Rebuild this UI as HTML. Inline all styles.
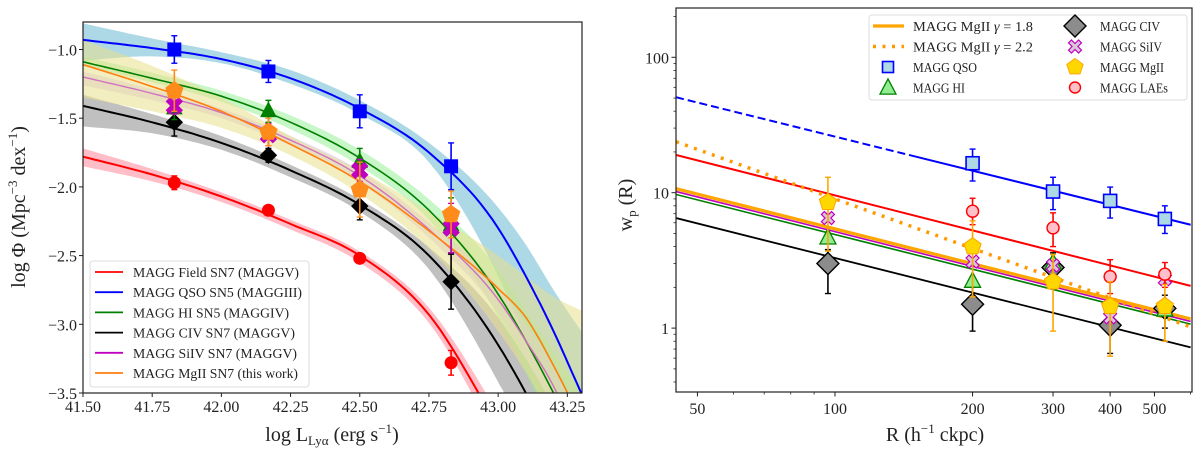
<!DOCTYPE html>
<html><head><meta charset="utf-8"><style>
html,body{margin:0;padding:0;background:#fff;width:1200px;height:456px;overflow:hidden;}
svg{display:block;font-family:"Liberation Serif","DejaVu Serif",serif;}
svg text{font-family:"Liberation Serif","DejaVu Serif",serif;}
</style></head><body>
<svg id="fig" width="1200" height="456" viewBox="0 0 1200 456" font-family="Liberation Serif, DejaVu Serif, serif" xmlns="http://www.w3.org/2000/svg">
<g id="left"></g>
<g id="right"></g>
</svg>
<script>
// ---------- LEFT PANEL DATA ----------
const gridL = [41.5,41.75,42.0,42.25,42.5,42.75,43.0,43.1,43.2,43.3];
const fieldCurve = [-1.78,-1.91,-2.07,-2.27,-2.50,-2.93,-3.75,-4.1,-4.5,-4.9];
const fieldUp    = [-1.72,-1.87,-2.04,-2.24,-2.47,-2.88,-3.65,-4.0,-4.4,-4.8];
const fieldLo    = [-1.85,-1.96,-2.11,-2.31,-2.55,-2.99,-3.85,-4.2,-4.6,-5.0];
const qsoCurve = [-0.93,-0.99,-1.07,-1.21,-1.43,-1.75,-2.30,-2.65,-3.05,-3.5];
const qsoUp    = [-0.81,-0.92,-1.02,-1.15,-1.37,-1.68,-2.15,-2.42,-2.75,-3.05];
const qsoLo    = [-1.08,-1.05,-1.10,-1.25,-1.47,-1.82,-2.65,-3.1,-3.5,-3.9];
const hiCurve = [-1.09,-1.21,-1.34,-1.53,-1.79,-2.17,-2.78,-3.12,-3.5,-3.9];
const hiUp    = [-1.05,-1.17,-1.30,-1.48,-1.73,-2.09,-2.60,-2.90,-3.2,-3.5];
const hiLo    = [-1.12,-1.24,-1.38,-1.58,-1.85,-2.24,-2.95,-3.35,-3.8,-4.2];
const civCurve = [-1.41,-1.53,-1.68,-1.88,-2.13,-2.50,-3.15,-3.5,-3.9,-4.3];
const civUp    = [-1.33,-1.47,-1.63,-1.84,-2.09,-2.44,-2.95,-3.25,-3.6,-4.0];
const civLo    = [-1.56,-1.61,-1.73,-1.93,-2.18,-2.60,-3.42,-3.8,-4.3,-4.7];
const siivCurve = [-1.20,-1.32,-1.46,-1.66,-1.92,-2.31,-2.82,-3.12,-3.45,-3.9];
const siivUp    = [-1.16,-1.29,-1.43,-1.63,-1.88,-2.26,-2.72,-3.0,-3.3,-3.7];
const siivLo    = [-1.26,-1.37,-1.50,-1.70,-1.97,-2.37,-2.92,-3.25,-3.6,-4.0];
const mgCurve = [-1.11,-1.27,-1.45,-1.69,-1.96,-2.32,-2.74,-2.95,-3.30,-3.7];
const mgUp    = [-0.93,-1.12,-1.35,-1.63,-1.88,-2.18,-2.50,-2.65,-2.80,-2.90];
const mgLo    = [-1.35,-1.45,-1.57,-1.77,-2.05,-2.45,-3.05,-3.35,-3.70,-4.0];
const ptsX = [41.83,42.17,42.5,42.83];
const fieldPts = [-1.97,-2.17,-2.52,-3.28]; const fieldErr = [0.05,0.03,0.03,0.09];
const qsoPts = [-1.00,-1.16,-1.45,-1.85];   const qsoErr = [0.10,0.08,0.12,0.17];
const hiPts = [-1.43,-1.45,-1.82,-2.28];    const hiErr = [0.08,0.08,0.10,0.2];
const siivPts = [-1.41,-1.62,-1.88,-2.30];  const siivErr = [0.06,0.08,0.08,0.18];
const mgPts = [-1.30,-1.60,-2.02,-2.20];    const mgErr = [0.15,0.10,0.20,0.17];
const civPts = [-1.53,-1.77,-2.14,-2.69];   const civErr = [0.10,0.05,0.10,0.2];
const xTicksL = [41.50,41.75,42.00,42.25,42.50,42.75,43.00,43.25];
const xTickLabelsL = ["41.50","41.75","42.00","42.25","42.50","42.75","43.00","43.25"];
const yTicksL = [-1.0,-1.5,-2.0,-2.5,-3.0,-3.5];
const yTickLabelsL = ["\u22121.0","\u22121.5","\u22122.0","\u22122.5","\u22123.0","\u22123.5"];
const legendL = ["MAGG Field SN7 (MAGGV)","MAGG QSO SN5 (MAGGIII)","MAGG HI SN5 (MAGGIV)","MAGG CIV SN7 (MAGGV)","MAGG SiIV SN7 (MAGGV)","MAGG MgII SN7 (this work)"];

// ---------- RIGHT PANEL DATA ----------
const lineR = [44.9, 600];
const qsoLine = [50.7, 5.8];
const laeLine = [19.0, 2.05];
const mg18Line = [10.7, 1.17];
const siivLine = [10.2, 1.12];
const hiLine = [9.7, 1.07];
const civLine = [6.5, 0.72];
const mg22Line = [23.8, 1.02];
const qsoR = [200,300,400,527]; const qsoW = [16.5,10.2,8.7,6.4]; const qsoWlo=[12.2,7.5,6.5,5.0]; const qsoWhi=[21,13,11,8];
const laeR = [200,300,400,527]; const laeW = [7.3,5.5,2.4,2.5]; const laeWlo=[5.8,4.0,1.8,2.0]; const laeWhi=[9.1,7.1,3.2,3.05];
const mgR = [96.5,200,300,400,527]; const mgW = [8.5,4.0,2.2,1.45,1.45]; const mgWlo=[3.7,1.7,0.95,0.62,0.8]; const mgWhi=[13,6.2,3.5,2.2,2.1];
const siR = [96.5,200,300,400,527]; const siW = [6.5,3.1,2.9,1.2,2.3];
const hiR = [96.5,200,300,527]; const hiW = [4.6,2.2,3.0,1.35];
const civR = [96.5,200,300,400,527]; const civW = [3.0,1.5,2.8,1.05,1.4]; const civWlo=[1.8,0.95,2.0,0.65,1.0]; const civWhi=[3.8,2.0,3.6,1.3,1.75];
const xTicksR = [50,100,200,300,400,500];
const xTickLabelsR = ["50","100","200","300","400","500"];
const yTicksR = [1,10,100];
const yTickLabelsR = ["1","10","100"];

const NS="http://www.w3.org/2000/svg";
function mk(tag, attrs, parent){const e=document.createElementNS(NS,tag);for(const k in attrs)e.setAttribute(k,attrs[k]);parent.appendChild(e);return e;}

// ---------- LEFT ----------
const L={x0:83,x1:582,y0:22,y1:393,xmin:41.5,xmax:43.303,ymin:-3.5,ymax:-0.8};
const lx=v=>L.x0+(v-L.xmin)/(L.xmax-L.xmin)*(L.x1-L.x0);
const ly=v=>L.y1-(v-L.ymin)/(L.ymax-L.ymin)*(L.y1-L.y0);
const gL=document.getElementById('left');
const defs=mk('defs',{},gL);
const cp=mk('clipPath',{id:'clipL'},defs); mk('rect',{x:L.x0,y:L.y0,width:L.x1-L.x0,height:L.y1-L.y0},cp);
const cp2=mk('clipPath',{id:'clipR'},defs); mk('rect',{x:676,y:8,width:516,height:384},cp2);
const plotL=mk('g',{'clip-path':'url(#clipL)'},gL);
// cubic Hermite interpolation in data space (handles non-uniform spacing)
function smoothPts(c){const X=gridL,n=X.length,m=[];
 for(let i=0;i<n;i++){if(i===0)m.push((c[1]-c[0])/(X[1]-X[0]));else if(i===n-1)m.push((c[n-1]-c[n-2])/(X[n-1]-X[n-2]));
  else{const h0=X[i]-X[i-1],h1=X[i+1]-X[i];m.push(((c[i]-c[i-1])/h0*h1+(c[i+1]-c[i])/h1*h0)/(h0+h1));}}
 const out=[];
 for(let i=0;i<n-1;i++){const h=X[i+1]-X[i];for(let k=0;k<12;k++){const t=k/12,t2=t*t,t3=t2*t;
  const y=(2*t3-3*t2+1)*c[i]+(t3-2*t2+t)*h*m[i]+(-2*t3+3*t2)*c[i+1]+(t3-t2)*h*m[i+1];
  out.push([lx(X[i]+t*h),ly(y)]);}}
 out.push([lx(X[n-1]),ly(c[n-1])]);return out;}
function bandPath(up,lo){const a=smoothPts(up),b=smoothPts(lo).reverse();return a.concat(b).map((p,i)=>(i?'L':'M')+p[0].toFixed(1)+','+p[1].toFixed(1)).join('')+'Z';}
function curvePath(c){return smoothPts(c).map((p,i)=>(i?'L':'M')+p[0].toFixed(1)+','+p[1].toFixed(1)).join('');}
const bands=[[qsoUp,qsoLo,'#add8e6',1,'qso-band'],[civUp,civLo,'#9e9e9e',0.65,'civ-band'],[hiUp,hiLo,'#90ee90',0.5,'hi-band'],[siivUp,siivLo,'#dcc8f0',0.6,'siiv-band'],[mgUp,mgLo,'#e8e08c',0.55,'mgii-band'],[fieldUp,fieldLo,'#ffb6c1',0.9,'field-band']];
bands.forEach(b=>{const p=mk('path',{d:bandPath(b[0],b[1]),fill:b[2],'fill-opacity':b[3],stroke:'none'},plotL);

});
const curves=[[fieldCurve,'#ff0000',2,'field-curve'],[qsoCurve,'#0000ff',2,'qso-curve'],[hiCurve,'#007f00',1.6,'hi-curve'],[civCurve,'#000000',2,'civ-curve'],[siivCurve,'#d070c0',1.4,'siiv-curve'],[mgCurve,'#ff7f0e',1.6,'mgii-curve']];
curves.forEach(c=>{const p=mk('path',{d:curvePath(c[0]),fill:'none',stroke:c[1],'stroke-width':c[2]},plotL);

});
function err(g,x,y1,y2,col){mk('line',{x1:x,x2:x,y1:y1,y2:y2,stroke:col,'stroke-width':1.6},g);mk('line',{x1:x-3,x2:x+3,y1:y1,y2:y1,stroke:col,'stroke-width':1.4},g);mk('line',{x1:x-3,x2:x+3,y1:y2,y2:y2,stroke:col,'stroke-width':1.4},g);}
function marker(g,type,cx,cy,s,fill,stroke,sw){
 if(type==='circle')return mk('circle',{cx,cy,r:s,fill,stroke,'stroke-width':sw},g);
 if(type==='square')return mk('rect',{x:cx-s,y:cy-s,width:2*s,height:2*s,fill,stroke,'stroke-width':sw},g);
 if(type==='diamond')return mk('path',{d:`M${cx},${cy-s}L${cx+s},${cy}L${cx},${cy+s}L${cx-s},${cy}Z`,fill,stroke,'stroke-width':sw},g);
 if(type==='tri')return mk('path',{d:`M${cx},${cy-s*1.2}L${cx+s},${cy+s*0.7}L${cx-s},${cy+s*0.7}Z`,fill,stroke,'stroke-width':sw},g);
 if(type==='penta'){let d='';for(let i=0;i<5;i++){const a=-Math.PI/2+i*2*Math.PI/5;d+=(i?'L':'M')+(cx+s*Math.cos(a)).toFixed(1)+','+(cy+s*Math.sin(a)).toFixed(1);}return mk('path',{d:d+'Z',fill,stroke,'stroke-width':sw},g);}
 if(type==='x'){const a=s*0.45,b=s;const d=`M${cx-b},${cy-b+a}L${cx-b+a},${cy-b}L${cx},${cy-a}L${cx+b-a},${cy-b}L${cx+b},${cy-b+a}L${cx+a},${cy}L${cx+b},${cy+b-a}L${cx+b-a},${cy+b}L${cx},${cy+a}L${cx-b+a},${cy+b}L${cx-b},${cy+b-a}L${cx-a},${cy}Z`;return mk('path',{d,fill,stroke,'stroke-width':sw},g);}
}
const ptSetsL=[[fieldPts,fieldErr,'circle','#ff0000','#ff0000','#ff0000',6,'field-points'],[qsoPts,qsoErr,'square','#0000ff','#0000ff','#0000ff',6.5,'qso-points'],[civPts,civErr,'diamond','#000','#000','#000',8,'civ-points'],[hiPts,hiErr,'tri','#007f00','#007f00','#007f00',7.5,'hi-points'],[siivPts,siivErr,'x','#c000c0','#c000c0','#c000c0',8,'siiv-points'],[mgPts,mgErr,'penta','#ff8c1a','#ff8c1a','#ff8c1a',9,'mgii-points']];
ptSetsL.forEach(s=>{const g=mk('g',{},gL);


ptsX.forEach((x,i)=>{const X=lx(x);err(g,X,ly(s[0][i]+s[1][i]),ly(s[0][i]-s[1][i]),s[5]);marker(g,s[2],X,ly(s[0][i]),s[6],s[3],s[4],1);});});
mk('rect',{x:L.x0,y:L.y0,width:L.x1-L.x0,height:L.y1-L.y0,fill:'none',stroke:'#222','stroke-width':1.2},gL);
xTicksL.forEach((t,i)=>{const X=lx(t);mk('line',{x1:X,x2:X,y1:L.y1,y2:L.y1+4,stroke:'#222'},gL);const tx=mk('text',{x:X,y:L.y1+19,'font-size':16,'text-anchor':'middle',fill:'#222'},gL);tx.textContent=xTickLabelsL[i];

});
yTicksL.forEach((t,i)=>{const Y=ly(t);mk('line',{x1:L.x0-4,x2:L.x0,y1:Y,y2:Y,stroke:'#222'},gL);const tx=mk('text',{x:L.x0-6,y:Y+6,'font-size':16,'text-anchor':'end',fill:'#222'},gL);tx.textContent=yTickLabelsL[i];

});
const lg=mk('g',{},gL);


mk('rect',{x:90,y:261,width:219,height:126,rx:3,fill:'#fff','fill-opacity':0.85,stroke:'#ddd'},lg);
const legCols=['#ff0000','#0000ff','#007f00','#000000','#c000c0','#ff7f0e'];
const legW=[166,169,156,162,164,165];
legendL.forEach((t,i)=>{const Y=272+i*20.2;mk('line',{x1:95,x2:123,y1:Y,y2:Y,stroke:legCols[i],'stroke-width':1.8},lg);const tx=mk('text',{x:133,y:Y+5,'font-size':14,fill:'#222',textLength:legW[i],lengthAdjust:'spacingAndGlyphs'},lg);tx.textContent=t;

});
const xl=mk('text',{x:332,y:441,'font-size':20,'text-anchor':'middle',fill:'#222'},gL);
xl.innerHTML='log L<tspan font-size="13" dy="4">Ly\u03b1</tspan><tspan dy="-4"> (erg s</tspan><tspan font-size="13" dy="-8">\u22121</tspan><tspan dy="8">)</tspan>';


const yl=mk('text',{x:0,y:0,'font-size':20,'text-anchor':'middle',fill:'#222',transform:'translate(25,207) rotate(-90)'},gL);
yl.innerHTML='log \u03a6 (Mpc<tspan font-size="13" dy="-8">\u22123</tspan><tspan dy="8"> dex</tspan><tspan font-size="13" dy="-8">\u22121</tspan><tspan dy="8">)</tspan>';



// ---------- RIGHT ----------
const R={x0:676,x1:1192,y0:8,y1:392};
const rx=v=>835+(Math.log10(v)-2)*457;
const ry=v=>192.7-(Math.log10(v)-1)*135.4;
const gR=document.getElementById('right');
const plotR=mk('g',{'clip-path':'url(#clipR)'},gR);
function pl(arr,col,w,name,dash){const p=mk('line',{x1:rx(lineR[0]),y1:ry(arr[0]),x2:rx(lineR[1]),y2:ry(arr[1]),stroke:col,'stroke-width':w},plotR);if(dash)p.setAttribute('stroke-dasharray',dash);

return p;}
(function(){const s=Math.log(qsoLine[1]/qsoLine[0])/Math.log(lineR[1]/lineR[0]);const w150=qsoLine[0]*Math.pow(150/lineR[0],s);
const a=mk('line',{x1:rx(lineR[0]),y1:ry(qsoLine[0]),x2:rx(150),y2:ry(w150),stroke:'#0000ff','stroke-width':2,'stroke-dasharray':'8 4'},plotR);


const b=mk('line',{x1:rx(150),y1:ry(w150),x2:rx(lineR[1]),y2:ry(qsoLine[1]),stroke:'#0000ff','stroke-width':2},plotR);

})();
pl(laeLine,'#ff0000',2,'lae-fit');
pl(civLine,'#000',1.8,'civ-fit');
pl(hiLine,'#007f00',1.6,'hi-fit');
pl(siivLine,'#c000c0',1.6,'siiv-fit');
pl(mg18Line,'#ffa500',3.2,'mgii-fit-gamma-1-8');
pl(mg22Line,'#ff9900',3.5,'mgii-fit-gamma-2-2','3 6.5');
function errR(g,x,lo,hi,col){err(g,rx(x),ry(hi),ry(lo),col);}
const gc=mk('g',{},gR);
civR.forEach((r,i)=>{errR(gc,r,civWlo[i],civWhi[i],'#000');marker(gc,'diamond',rx(r),ry(civW[i]),11,'#8c8c8c','#000',1.4);});
const gh=mk('g',{},gR);
hiR.forEach((r,i)=>{marker(gh,'tri',rx(r),ry(hiW[i]),8,'#90ee90','#008000',1.3);});
const gs=mk('g',{},gR);
siR.forEach((r,i)=>{marker(gs,'x',rx(r),ry(siW[i]),6.5,'#d8c8d8','#c000c0',1.2);});
const gl=mk('g',{},gR);
laeR.forEach((r,i)=>{errR(gl,r,laeWlo[i],laeWhi[i],'#ff0000');marker(gl,'circle',rx(r),ry(laeW[i]),6,'#ffc0cb','#ff0000',1.4);});
const gq=mk('g',{},gR);
qsoR.forEach((r,i)=>{errR(gq,r,qsoWlo[i],qsoWhi[i],'#0000ff');marker(gq,'square',rx(r),ry(qsoW[i]),6.5,'#add8e6','#0000ff',1.6);});
const gm=mk('g',{},gR);
mgR.forEach((r,i)=>{errR(gm,r,mgWlo[i],mgWhi[i],'#ffa500');marker(gm,'penta',rx(r),ry(mgW[i]),9,'#ffd700','#ffa500',1);});
mk('rect',{x:R.x0,y:R.y0,width:R.x1-R.x0,height:R.y1-R.y0,fill:'none',stroke:'#222','stroke-width':1.2},gR);
[[40,90,10],[100,600,100]].forEach(([a,b,st])=>{for(let v=a;v<=b;v+=st){const X=rx(v);if(X<R.x0||X>R.x1)continue;mk('line',{x1:X,x2:X,y1:R.y1,y2:R.y1+2.5,stroke:'#222','stroke-width':0.8},gR);}});
[[0.4,0.9,0.1],[2,9,1],[20,90,10],[200,200,100]].forEach(([a,b,st])=>{for(let v=a;v<=b+1e-9;v+=st){const Y=ry(v);if(Y<R.y0||Y>R.y1)continue;mk('line',{x1:R.x0-2.5,x2:R.x0,y1:Y,y2:Y,stroke:'#222','stroke-width':0.8},gR);}});
xTicksR.forEach((t,i)=>{const X=rx(t);mk('line',{x1:X,x2:X,y1:R.y1,y2:R.y1+4.5,stroke:'#222'},gR);const tx=mk('text',{x:X,y:R.y1+22,'font-size':16,'text-anchor':'middle',fill:'#222'},gR);tx.textContent=xTickLabelsR[i];

});
yTicksR.forEach((t,i)=>{const Y=ry(t);mk('line',{x1:R.x0-4.5,x2:R.x0,y1:Y,y2:Y,stroke:'#222'},gR);const tx=mk('text',{x:R.x0-7,y:Y+6,'font-size':16,'text-anchor':'end',fill:'#222'},gR);tx.textContent=yTickLabelsR[i];

});
const rg=mk('g',{},gR);


mk('rect',{x:869,y:15,width:318,height:85,rx:3,fill:'#fff','fill-opacity':0.85,stroke:'#ddd'},rg);
const rows=[26,46.5,67,87.5];
mk('line',{x1:873,x2:904,y1:rows[0],y2:rows[0],stroke:'#ffa500','stroke-width':3.2},rg);
mk('line',{x1:873,x2:904,y1:rows[1],y2:rows[1],stroke:'#ff9900','stroke-width':3.5,'stroke-dasharray':'3 6.5'},rg);
marker(rg,'square',888,rows[2],5.5,'#add8e6','#0000ff',1.6);
marker(rg,'tri',888,rows[3]+1,8,'#90ee90','#008000',1.3);
marker(rg,'diamond',1075,rows[0],11,'#8c8c8c','#000',1.4);
marker(rg,'x',1075,rows[1],6.5,'#d8c8d8','#c000c0',1.2);
marker(rg,'penta',1075,rows[2],8.5,'#ffd700','#ffa500',1);
marker(rg,'circle',1075,rows[3],5.5,'#ffc0cb','#ff0000',1.4);
const rlab=[[913,rows[0],'MAGG MgII <tspan font-style="italic">\u03b3</tspan> = 1.8',120],[913,rows[1],'MAGG MgII <tspan font-style="italic">\u03b3</tspan> = 2.2',120],[913,rows[2],'MAGG QSO',64],[913,rows[3],'MAGG HI',52],[1100,rows[0],'MAGG CIV',60],[1100,rows[1],'MAGG SiIV',62],[1100,rows[2],'MAGG MgII',64],[1100,rows[3],'MAGG LAEs',68]];
rlab.forEach(l=>{const tx=mk('text',{x:l[0],y:l[1]+5,'font-size':14,fill:'#222',textLength:l[3],lengthAdjust:'spacingAndGlyphs'},rg);tx.innerHTML=l[2];

});
const xr=mk('text',{x:935,y:441,'font-size':20,'text-anchor':'middle',fill:'#222'},gR);
xr.innerHTML='R (h<tspan font-size="13" dy="-8">\u22121</tspan><tspan dy="8"> ckpc)</tspan>';


const yr=mk('text',{x:0,y:0,'font-size':20,'text-anchor':'middle',fill:'#222',transform:'translate(632,205) rotate(-90)'},gR);
yr.innerHTML='w<tspan font-size="13" dy="4">p</tspan><tspan dy="-4"> (R)</tspan>';


</script>
</body></html>
